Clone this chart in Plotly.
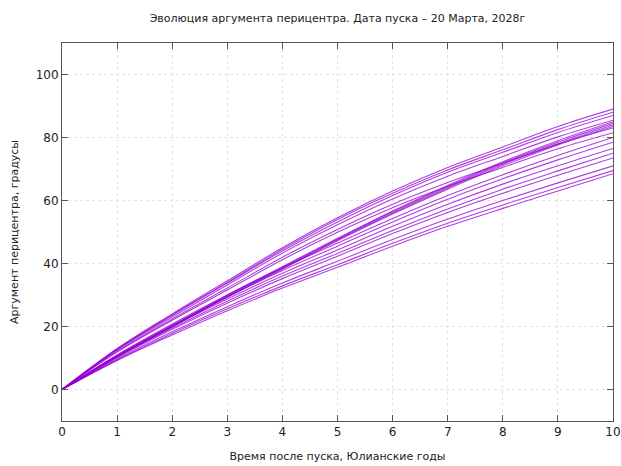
import plotly.graph_objects as go

years = [0, 1, 2, 3, 4, 5, 6, 7, 8, 9, 10]

# Argument of pericentre (degrees) for each trajectory, read at integer years
series = [
    [0, 13.0, 24.0, 34.5, 45.0, 54.5, 63.0, 70.5, 77.0, 83.5, 89.0],
    [0, 12.8, 23.7, 34.0, 44.5, 54.0, 62.3, 69.7, 76.1, 82.5, 88.0],
    [0, 12.7, 23.5, 33.8, 44.0, 53.2, 61.6, 69.0, 75.3, 81.6, 87.0],
    [0, 12.5, 23.0, 33.2, 43.3, 52.3, 60.5, 67.7, 74.0, 80.2, 85.5],
    [0, 10.6, 20.1, 29.7, 38.7, 47.7, 56.4, 64.4, 71.9, 78.5, 84.5],
    [0, 10.5, 20.0, 29.5, 38.5, 47.5, 56.0, 64.0, 71.5, 78.0, 84.0],
    [0, 10.4, 19.9, 29.3, 38.2, 47.2, 55.7, 63.6, 71.0, 77.6, 83.5],
    [0, 10.7, 20.3, 30.0, 39.0, 48.0, 56.7, 64.8, 72.3, 79.0, 85.0],
    [0, 12.1, 22.4, 32.2, 42.0, 50.8, 58.8, 65.7, 71.8, 77.9, 83.0],
    [0, 11.9, 22.0, 31.6, 41.2, 49.9, 57.7, 64.5, 70.5, 76.4, 81.5],
    [0, 11.0, 20.8, 30.0, 38.6, 46.5, 54.3, 61.6, 68.2, 74.3, 80.0],
    [0, 10.8, 20.4, 29.4, 37.8, 45.5, 53.2, 60.4, 66.9, 72.9, 78.5],
    [0, 10.6, 20.0, 28.7, 36.9, 44.3, 51.8, 58.8, 65.2, 71.0, 76.5],
    [0, 10.3, 19.5, 28.0, 36.0, 43.2, 50.5, 57.3, 63.6, 69.4, 75.0],
    [0, 10.1, 19.1, 27.4, 35.2, 42.3, 49.5, 56.2, 62.3, 68.0, 73.5],
    [0, 9.7, 18.3, 26.3, 33.8, 40.7, 47.6, 54.1, 60.0, 65.6, 71.0],
    [0, 9.4, 17.8, 25.6, 32.9, 39.6, 46.4, 52.8, 58.6, 64.1, 69.5],
    [0, 9.2, 17.3, 25.0, 32.2, 38.8, 45.5, 51.8, 57.5, 63.0, 68.5],
]

x_ticks = list(range(0, 11))
y_ticks = [0, 20, 40, 60, 80, 100]

title_text = "Эволюция аргумента перицентра. Дата пуска – 20 Марта, 2028г"
x_title = "Время после пуска, Юлианские годы"
y_title = "Аргумент перицентра, градусы"

FONT = "DejaVu Sans"
fig = go.Figure()
for s in series:
    fig.add_trace(go.Scatter(
        x=years, y=s, mode="lines",
        line=dict(color="rgb(148,0,211)", width=1.1, shape="spline", smoothing=1.0),
        opacity=0.75, showlegend=False, hoverinfo="skip",
    ))

axis_common = dict(
    showline=True, linecolor="#555", linewidth=1, mirror="ticks",
    ticks="inside", ticklen=6, tickcolor="#555", automargin=False,
    showgrid=True, gridcolor="#e3e3e3", griddash="dot", gridwidth=1,
    zeroline=False, tickfont=dict(family=FONT, size=12, color="#222"),
)

fig.update_layout(
    width=621, height=466,
    margin=dict(l=62, r=8, t=43, b=45, autoexpand=False),
    paper_bgcolor="white", plot_bgcolor="white",
    title=dict(text=title_text, x=0.5, xref="paper", xanchor="center", y=0.962, yanchor="middle",
               font=dict(family=FONT, size=11, color="#222")),
    xaxis=dict(range=[0, 10], tickvals=x_ticks, **axis_common,
               title=dict(text=x_title, standoff=13, font=dict(family=FONT, size=11, color="#222"))),
    yaxis=dict(range=[-10, 110], tickvals=y_ticks, **axis_common,
               title=dict(text=y_title, standoff=14, font=dict(family=FONT, size=11, color="#222"))),
)

fig.write_html("out.html", config={"displayModeBar": False},
               post_script="document.body.style.margin='0';")
